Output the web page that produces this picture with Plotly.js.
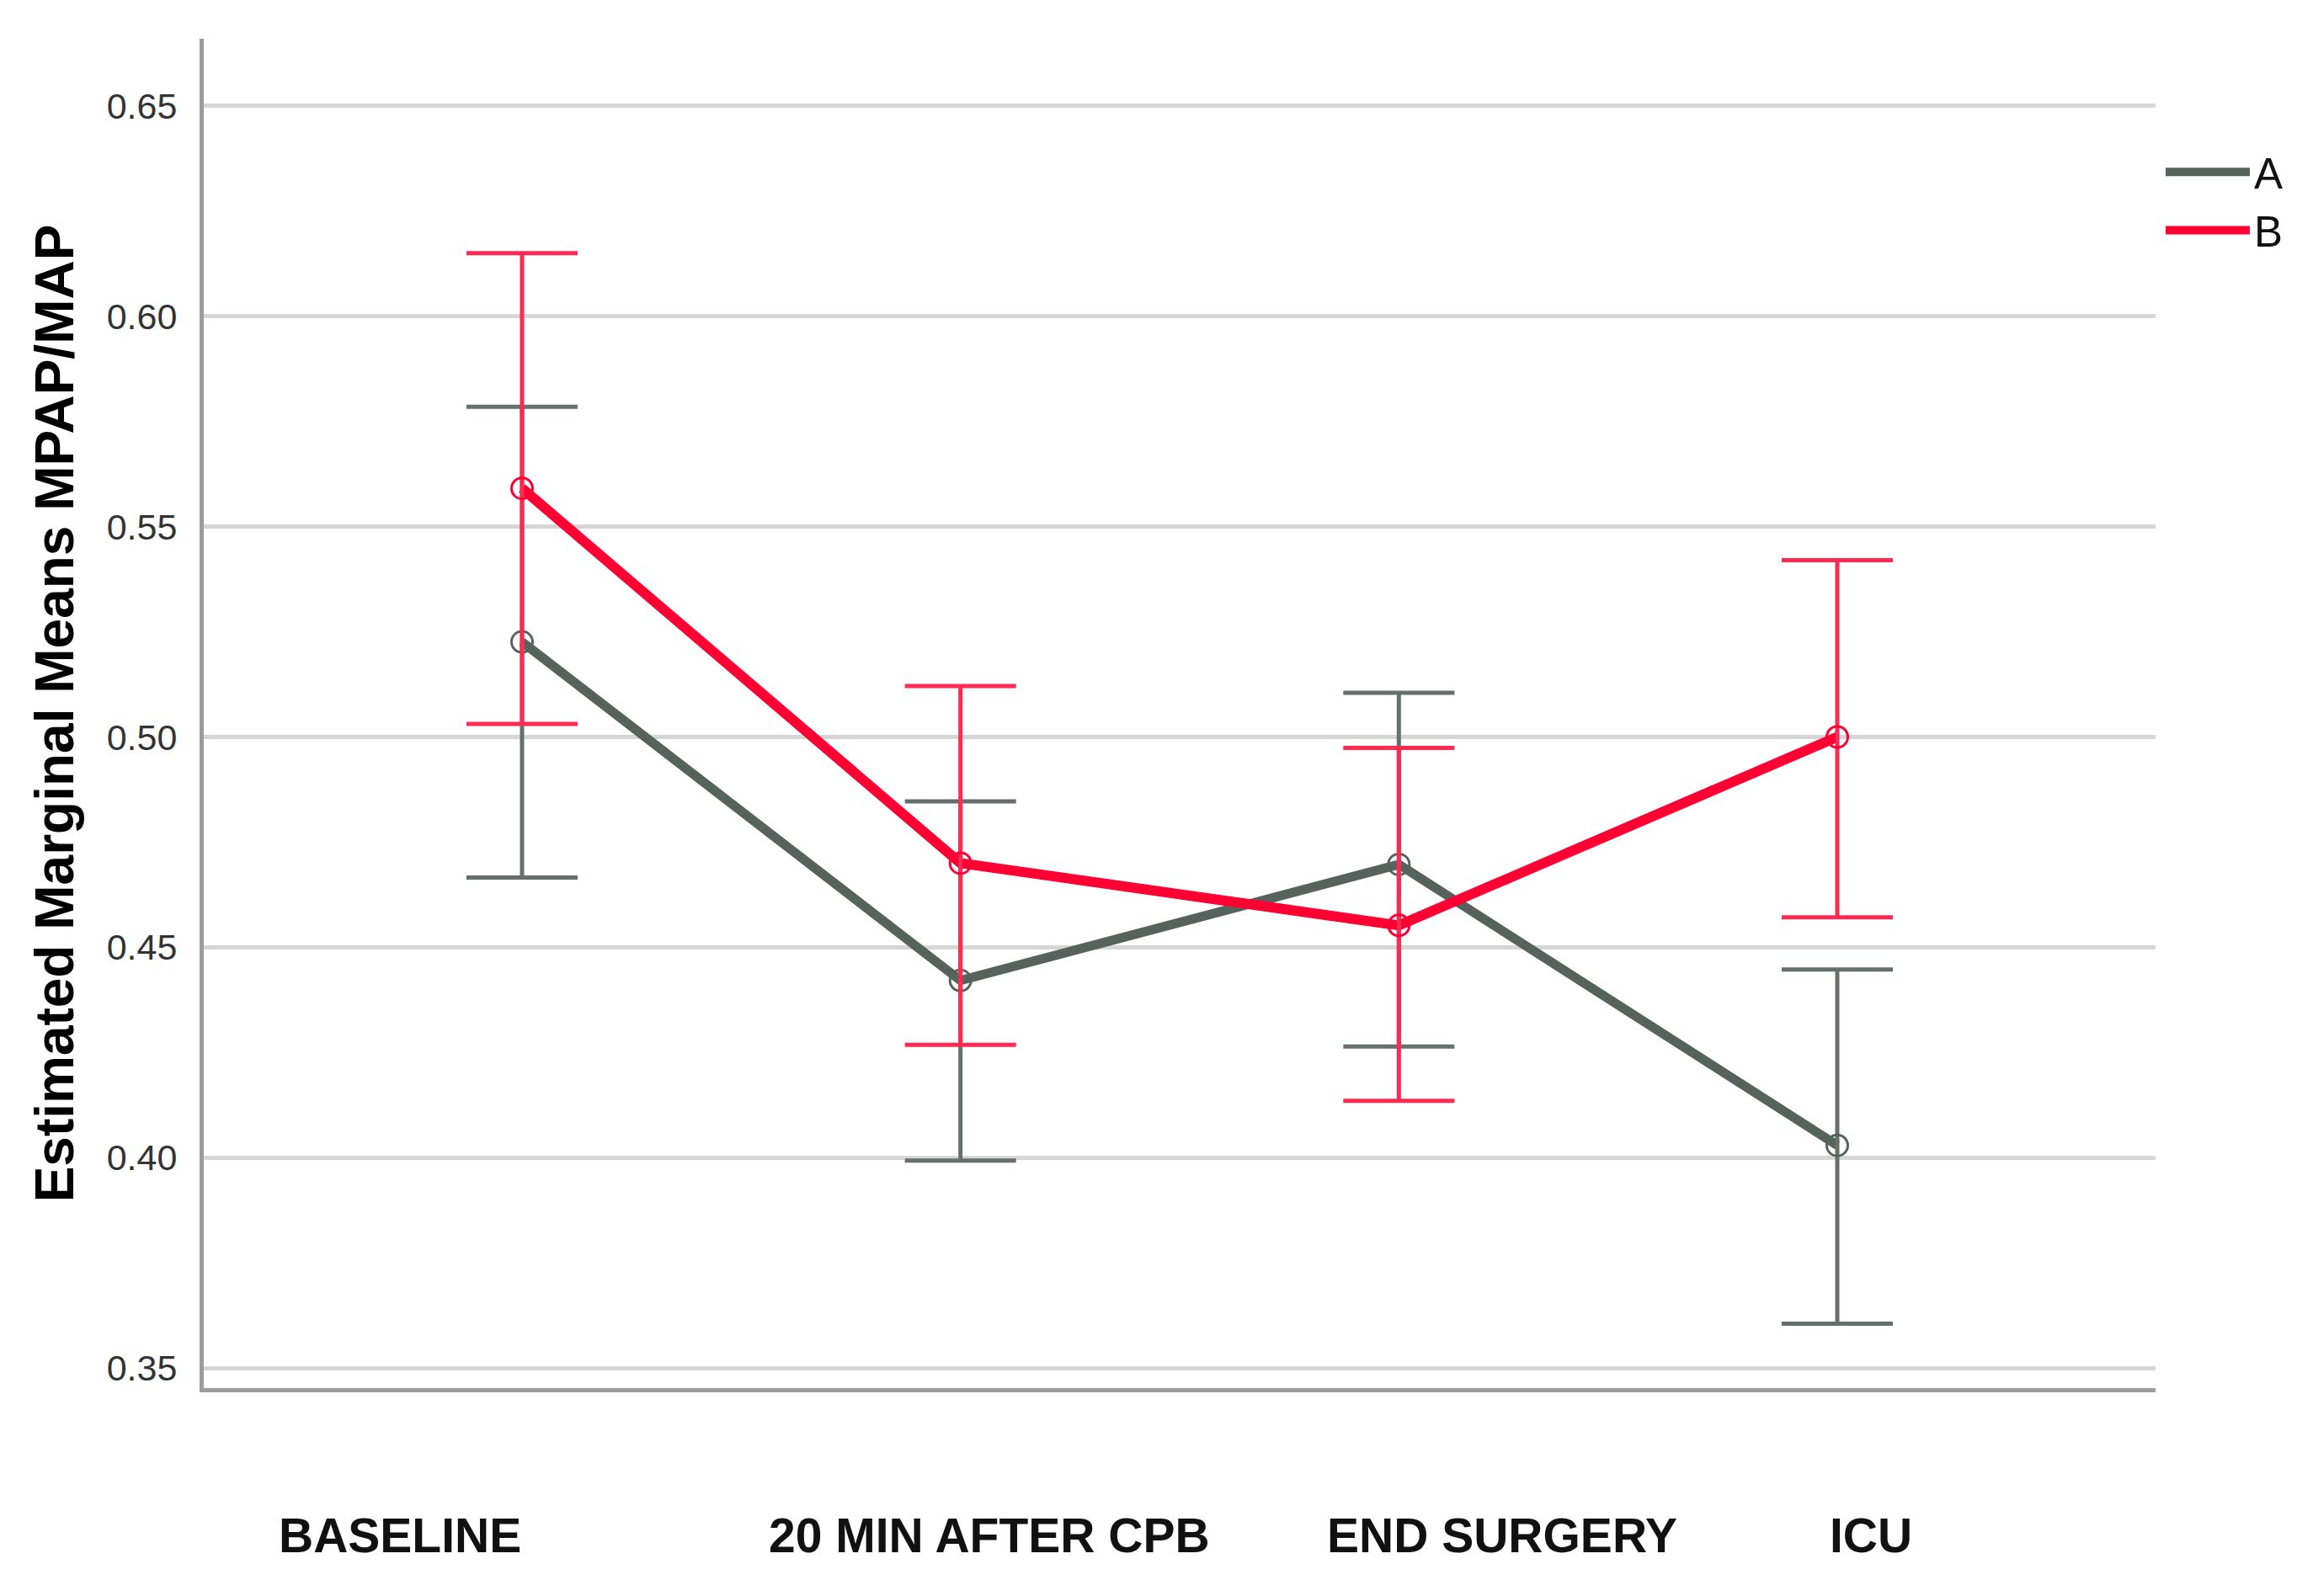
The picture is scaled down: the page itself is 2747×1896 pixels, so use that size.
<!DOCTYPE html>
<html>
<head>
<meta charset="utf-8">
<script src="https://cdn.plot.ly/plotly-3.0.1.min.js"></script>
<style>
  html, body { margin: 0; padding: 0; background: #ffffff; }
  #chart { width: 2747px; height: 1896px; }
</style>
</head>
<body>
<div id="chart"></div>
<script>
// ---- data ----
const categories = ['BASELINE', '20 MIN AFTER CPB', 'END SURGERY', 'ICU'];
const groupNames = ['A', 'B'];

const meanA  = [0.5226, 0.4421, 0.4697, 0.4029];
const upperA = [0.5785, 0.4847, 0.5105, 0.4447];
const lowerA = [0.4666, 0.3993, 0.4264, 0.3605];

const meanB  = [0.5591, 0.4700, 0.4552, 0.5000];
const upperB = [0.6150, 0.5121, 0.4974, 0.5420];
const lowerB = [0.5031, 0.4268, 0.4135, 0.4571];

const yTickVals = [0.35, 0.40, 0.45, 0.50, 0.55, 0.60, 0.65];
const yTickText = ['0.35', '0.40', '0.45', '0.50', '0.55', '0.60', '0.65'];
const yTitle = 'Estimated Marginal Means MPAP/MAP';

// ---- layout helpers (positions / styles) ----
const xPos = categories.map((_, i) => i);
const labelShift = [-0.278, 0.066, 0.236, 0.077];
const greyLine = '#56625c';
const greyErr = '#66706b';
const redLine = '#ff0033';
const redErr = '#ff2a52';

function makeTraces(name, mean, upper, lower, lineColor, errColor, lw) {
  return [
    {
      type: 'scatter',
      mode: 'lines',
      name: name,
      legendgroup: name,
      x: xPos,
      y: mean,
      line: { color: lineColor, width: lw },
      hoverinfo: 'skip'
    },
    {
      type: 'scatter',
      mode: 'markers',
      name: name,
      legendgroup: name,
      showlegend: false,
      x: xPos,
      y: mean,
      marker: { symbol: 'circle-open', size: 25, color: lineColor, line: { width: 3, color: lineColor } },
      error_y: {
        type: 'data',
        symmetric: false,
        array: upper.map((u, i) => u - mean[i]),
        arrayminus: mean.map((m, i) => m - lower[i]),
        color: errColor,
        thickness: 5,
        width: 66
      },
      hoverinfo: 'x+y'
    }
  ];
}

const traces = [].concat(
  makeTraces(groupNames[0], meanA, upperA, lowerA, greyLine, greyErr, 11),
  makeTraces(groupNames[1], meanB, upperB, lowerB, redLine, redErr, 12)
);

const annotations = categories.map((c, i) => ({
  text: c,
  x: xPos[i] + labelShift[i],
  xref: 'x',
  y: -0.109,
  yref: 'paper',
  xanchor: 'center',
  yanchor: 'middle',
  showarrow: false,
  font: { family: 'Liberation Sans, Arial, sans-serif', size: 57, color: '#111111', weight: 'bold' }
}));

const layout = {
  width: 2747,
  height: 1896,
  paper_bgcolor: '#ffffff',
  plot_bgcolor: '#ffffff',
  margin: { l: 242, r: 187, t: 46, b: 247, pad: 0 },
  showlegend: true,
  legend: {
    x: 1.003, xanchor: 'left',
    y: 0.926, yanchor: 'top',
    font: { family: 'Liberation Sans, Arial, sans-serif', size: 51, color: '#111111' },
    bgcolor: 'rgba(0,0,0,0)',
    itemwidth: 100,
    tracegroupgap: 0
  },
  xaxis: {
    range: [-0.726, 3.726],
    showgrid: false,
    zeroline: false,
    showticklabels: false,
    ticks: '',
    showline: true,
    linecolor: '#9c9c9c',
    linewidth: 5,
    fixedrange: true
  },
  yaxis: {
    range: [0.3452, 0.666],
    tickvals: yTickVals,
    ticktext: yTickText,
    ticks: '',
    ticklabelstandoff: 18,
    tickfont: { family: 'Liberation Sans, Arial, sans-serif', size: 43, color: '#333333' },
    showgrid: true,
    gridcolor: '#d6d6d6',
    gridwidth: 5,
    zeroline: false,
    showline: true,
    linecolor: '#9c9c9c',
    linewidth: 5,
    title: {
      text: yTitle,
      font: { family: 'Liberation Sans, Arial, sans-serif', size: 64, color: '#000000', weight: 'bold' },
      standoff: 20
    },
    fixedrange: true
  },
  shapes: [
    { type: 'line', xref: 'paper', yref: 'y', x0: 0, x1: 1, y0: 0.5, y1: 0.5,
      line: { color: '#a4a4a4', width: 3 }, layer: 'between' }
  ],
  annotations: annotations
};

Plotly.newPlot('chart', traces, layout, { displayModeBar: false, staticPlot: true });
</script>
</body>
</html>
